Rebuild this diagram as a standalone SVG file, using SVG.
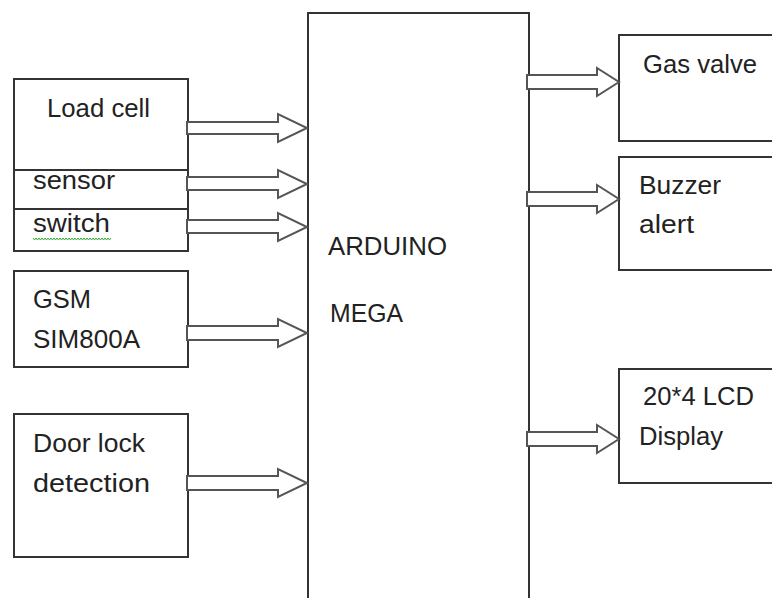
<svg xmlns="http://www.w3.org/2000/svg" width="772" height="598" viewBox="0 0 772 598">
<style>
.box{fill:#fff;stroke:#333;stroke-width:2}
.arr{fill:#fff;stroke:#555;stroke-width:2;stroke-linejoin:miter}
.t{font-family:"Liberation Sans",Arial,sans-serif;font-size:26px;fill:#222}
</style>
<rect width="772" height="598" fill="#fff"/>
<g id="arduino">
<rect class="box" x="308" y="13" width="221" height="600"/>
<text class="t" x="328" y="255" textLength="119" lengthAdjust="spacingAndGlyphs">ARDUINO</text>
<text class="t" x="330" y="322" textLength="73" lengthAdjust="spacingAndGlyphs">MEGA</text>
</g>
<g id="loadcell">
<rect class="box" x="14" y="79" width="174" height="172"/>
<line x1="14" y1="170" x2="188" y2="170" stroke="#333" stroke-width="2"/>
<line x1="14" y1="209" x2="188" y2="209" stroke="#333" stroke-width="2"/>
<text class="t" x="47" y="117" textLength="103" lengthAdjust="spacingAndGlyphs">Load cell</text>
</g>
<g id="sensor">
<text class="t" x="33" y="189" textLength="82" lengthAdjust="spacingAndGlyphs">sensor</text>
</g>
<g id="switch">
<text class="t" x="33" y="232" textLength="77" lengthAdjust="spacingAndGlyphs">switch</text>
<path d="M33 238 l1.5 2 l1.5 -2 l1.5 2 l1.5 -2 l1.5 2 l1.5 -2 l1.5 2 l1.5 -2 l1.5 2 l1.5 -2 l1.5 2 l1.5 -2 l1.5 2 l1.5 -2 l1.5 2 l1.5 -2 l1.5 2 l1.5 -2 l1.5 2 l1.5 -2 l1.5 2 l1.5 -2 l1.5 2 l1.5 -2 l1.5 2 l1.5 -2 l1.5 2 l1.5 -2 l1.5 2 l1.5 -2 l1.5 2 l1.5 -2 l1.5 2 l1.5 -2 l1.5 2 l1.5 -2 l1.5 2 l1.5 -2 l1.5 2 l1.5 -2 l1.5 2 l1.5 -2 l1.5 2 l1.5 -2 l1.5 2 l1.5 -2 l1.5 2 l1.5 -2 l1.5 2 l1.5 -2 l1.5 2 l1.5 -2" fill="none" stroke="#3a3" stroke-width="1"/>
</g>
<g id="gsm">
<rect class="box" x="14" y="271" width="174" height="96"/>
<text class="t" x="33" y="308" textLength="58" lengthAdjust="spacingAndGlyphs">GSM</text>
<text class="t" x="33" y="348" textLength="107" lengthAdjust="spacingAndGlyphs">SIM800A</text>
</g>
<g id="doorlock">
<rect class="box" x="14" y="414" width="174" height="143"/>
<text class="t" x="33" y="452" textLength="112" lengthAdjust="spacingAndGlyphs">Door lock</text>
<text class="t" x="33" y="492" textLength="117" lengthAdjust="spacingAndGlyphs">detection</text>
</g>
<g id="gasvalve">
<rect class="box" x="619" y="35" width="170" height="106"/>
<text class="t" x="643" y="73" textLength="114" lengthAdjust="spacingAndGlyphs">Gas valve</text>
</g>
<g id="buzzer">
<rect class="box" x="619" y="157" width="170" height="113"/>
<text class="t" x="639" y="194" textLength="82" lengthAdjust="spacingAndGlyphs">Buzzer</text>
<text class="t" x="639" y="233" textLength="55" lengthAdjust="spacingAndGlyphs">alert</text>
</g>
<g id="lcd">
<rect class="box" x="619" y="369" width="170" height="114"/>
<text class="t" x="643" y="405" textLength="111" lengthAdjust="spacingAndGlyphs">20*4 LCD</text>
<text class="t" x="639" y="445" textLength="84" lengthAdjust="spacingAndGlyphs">Display</text>
</g>
<g id="connectors">
<polygon class="arr" points="187,122 278,122 278,114 307,128 278,142 278,134 187,134"/>
<polygon class="arr" points="187,177 278,177 278,170 307,184 278,198 278,190 187,190"/>
<polygon class="arr" points="187,220 278,220 278,213 307,227 278,241 278,233 187,233"/>
<polygon class="arr" points="187,326 278,326 278,319 307,333 278,347 278,340 187,340"/>
<polygon class="arr" points="187,476 278,476 278,469 307,483 278,497 278,490 187,490"/>
<polygon class="arr" points="527,75 597,75 597,68 619,82 597,96 597,89 527,89"/>
<polygon class="arr" points="527,192 597,192 597,185 619,199 597,213 597,206 527,206"/>
<polygon class="arr" points="527,432 597,432 597,425 619,439 597,453 597,446 527,446"/>
</g>
</svg>
